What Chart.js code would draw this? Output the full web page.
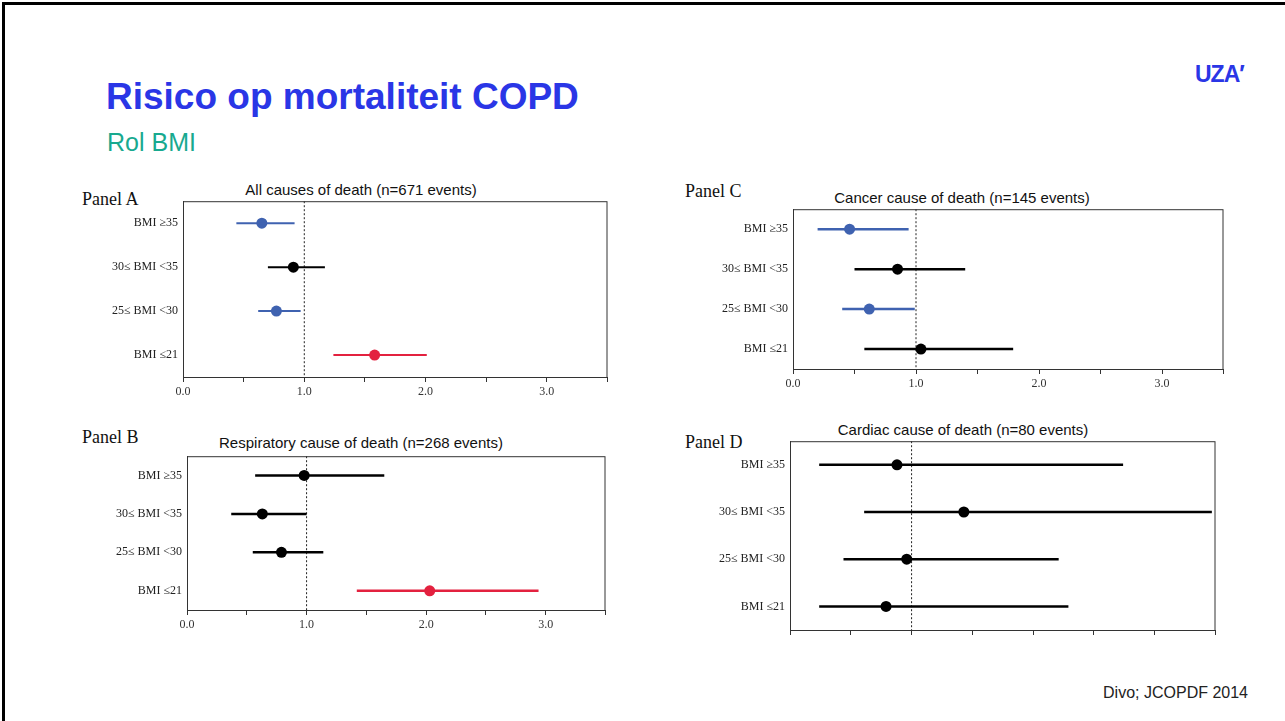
<!DOCTYPE html>
<html>
<head>
<meta charset="utf-8">
<script src="https://cdn.jsdelivr.net/npm/chart.js@4.4.1/dist/chart.umd.min.js"></script>
<style>
    body { margin: 0; background: #fff; }
    #slide { position: relative; width: 1285px; height: 721px; overflow: hidden; font-family: 'Liberation Sans', Arial, sans-serif; }
    #frameTop { position: absolute; left: 2px; top: 2px; width: 1285px; height: 3px; background: #000; }
    #frameLeft { position: absolute; left: 2px; top: 2px; width: 3px; height: 721px; background: #000; }
    .abs { position: absolute; white-space: nowrap; }
    #title { left: 106px; top: 76px; font-size: 37px; font-weight: bold; color: #2a36e6; }
    #subtitle { left: 107px; top: 128px; font-size: 25px; color: #18a98f; }
    #logo { left: 1195px; top: 61px; font-size: 23px; font-weight: bold; color: #2a36e6; letter-spacing: -1px; }
    #source { right: 37px; top: 684px; font-size: 16px; color: #222; }
    .panelLabel { font-family: 'Liberation Serif', 'Times New Roman', serif; font-size: 18px; color: #111; }
    .chartTitle { font-size: 15px; color: #111; transform: translateX(-50%); }
    canvas { position: absolute; }
</style>
</head>
<body>
<div id="slide">
    <div id="frameTop"></div>
    <div id="frameLeft"></div>
    <div id="title" class="abs">Risico op mortaliteit COPD</div>
    <div id="subtitle" class="abs">Rol BMI</div>
    <div id="logo" class="abs">UZA′</div>
    <div id="source" class="abs">Divo; JCOPDF 2014</div>

    <div class="abs panelLabel" style="left:82px; top:189px;">Panel A</div>
    <div class="abs panelLabel" style="left:82px; top:427px;">Panel B</div>
    <div class="abs panelLabel" style="left:685px; top:181px;">Panel C</div>
    <div class="abs panelLabel" style="left:685px; top:432px;">Panel D</div>

    <div class="abs chartTitle" style="left:361px; top:181px;">All causes of death (n=671 events)</div>
    <div class="abs chartTitle" style="left:361px; top:434px;">Respiratory cause of death (n=268 events)</div>
    <div class="abs chartTitle" style="left:962px; top:189px;">Cancer cause of death (n=145 events)</div>
    <div class="abs chartTitle" style="left:963px; top:421px;">Cardiac cause of death (n=80 events)</div>

    <canvas id="panelA" width="553" height="218" style="left:60px; top:189px;"></canvas>
    <canvas id="panelB" width="551" height="196" style="left:60px; top:444px;"></canvas>
    <canvas id="panelC" width="559" height="202" style="left:670px; top:197px;"></canvas>
    <canvas id="panelD" width="551" height="231" style="left:670px; top:429px;"></canvas>
</div>

<script>
// categorieen (van boven naar onder)
const categories = ['BMI ≥35', '30≤ BMI <35', '25≤ BMI <30', 'BMI ≤21'];
const xTickValues = [0, 0.5, 1, 1.5, 2, 2.5, 3, 3.5];

// Panel A - alle oorzaken
const aEstimate = [0.65, 0.91, 0.77, 1.58];
const aLower = [0.44, 0.70, 0.62, 1.24];
const aUpper = [0.92, 1.17, 0.97, 2.01];

// Panel B - respiratoir
const bEstimate = [0.98, 0.63, 0.79, 2.03];
const bLower = [0.57, 0.37, 0.55, 1.42];
const bUpper = [1.65, 1.00, 1.14, 2.94];

// Panel C - kanker
const cEstimate = [0.46, 0.85, 0.62, 1.04];
const cLower = [0.20, 0.50, 0.40, 0.58];
const cUpper = [0.94, 1.40, 0.99, 1.79];

// Panel D - cardiaal
const dEstimate = [0.88, 1.43, 0.96, 0.79];
const dLower = [0.24, 0.61, 0.44, 0.24];
const dUpper = [2.74, 3.47, 2.21, 2.29];

const BLUE = '#3f62b0';
const RED = '#e3213f';
const BLACK = '#000000';

// kleur per rij
const aColors = [BLUE, BLACK, BLUE, RED];
const bColors = [BLACK, BLACK, BLACK, RED];
const cColors = [BLUE, BLACK, BLUE, BLACK];
const dColors = [BLACK, BLACK, BLACK, BLACK];

// stippellijn op 1.0 en kader rond het plotgebied
const boxPlugin = {
    id: 'boxPlugin',
    beforeDatasetsDraw(chart) {
        const { ctx, chartArea, scales } = chart;
        const x = scales.x.getPixelForValue(1);
        ctx.save();
        ctx.strokeStyle = '#222';
        ctx.lineWidth = 1;
        ctx.setLineDash([2, 2]);
        ctx.beginPath();
        ctx.moveTo(x, chartArea.top);
        ctx.lineTo(x, chartArea.bottom);
        ctx.stroke();
        ctx.restore();
    },
    afterDraw(chart) {
        const { ctx, chartArea } = chart;
        ctx.save();
        ctx.strokeStyle = '#333';
        ctx.lineWidth = 1;
        ctx.strokeRect(chartArea.left + 0.5, chartArea.top + 0.5,
            chartArea.right - chartArea.left - 1, chartArea.bottom - chartArea.top);
        ctx.restore();
    }
};

function makePanel(id, estimate, lower, upper, colors, yWidth, showLabels, lineWidth) {
    const datasets = categories.map((cat, i) => ({
        data: [{ x: lower[i], y: cat }, { x: upper[i], y: cat }],
        borderColor: colors[i],
        borderWidth: lineWidth,
        pointRadius: 0,
        showLine: true
    }));
    datasets.push({
        data: categories.map((cat, i) => ({ x: estimate[i], y: cat })),
        showLine: false,
        pointRadius: 5.5,
        pointBackgroundColor: colors,
        pointBorderColor: colors,
        pointBorderWidth: 0
    });

    new Chart(document.getElementById(id), {
        type: 'line',
        data: { datasets: datasets },
        options: {
            responsive: false,
            animation: false,
            events: [],
            layout: { padding: { top: 2, right: 2, left: 0, bottom: 0 } },
            plugins: {
                legend: { display: false },
                tooltip: { enabled: false }
            },
            scales: {
                x: {
                    type: 'linear',
                    min: 0,
                    max: 3.5,
                    afterBuildTicks: (scale) => {
                        scale.ticks = xTickValues.map(v => ({ value: v }));
                    },
                    afterFit: (scale) => { scale.height = 30; },
                    ticks: {
                        autoSkip: false,
                        maxRotation: 0,
                        padding: 3,
                        color: '#333',
                        font: { family: 'Liberation Serif', size: 12 },
                        callback: (v) => (showLabels && Number.isInteger(v)) ? v.toFixed(1) : ''
                    },
                    grid: { drawOnChartArea: false, drawTicks: true, tickLength: 5, color: '#333' },
                    border: { display: true, color: '#333' }
                },
                y: {
                    type: 'category',
                    labels: categories,
                    offset: true,
                    afterFit: (scale) => { scale.width = yWidth; },
                    ticks: {
                        padding: 5,
                        color: '#222',
                        font: { family: 'Liberation Serif', size: 12 }
                    },
                    grid: { display: false, drawTicks: false },
                    border: { display: true, color: '#333' }
                }
            }
        },
        plugins: [boxPlugin]
    });
}

makePanel('panelA', aEstimate, aLower, aUpper, aColors, 123, true, 2);
makePanel('panelB', bEstimate, bLower, bUpper, bColors, 127, true, 2.5);
makePanel('panelC', cEstimate, cLower, cUpper, cColors, 123, true, 2.5);
makePanel('panelD', dEstimate, dLower, dUpper, dColors, 120, false, 2.5);
</script>
</body>
</html>
